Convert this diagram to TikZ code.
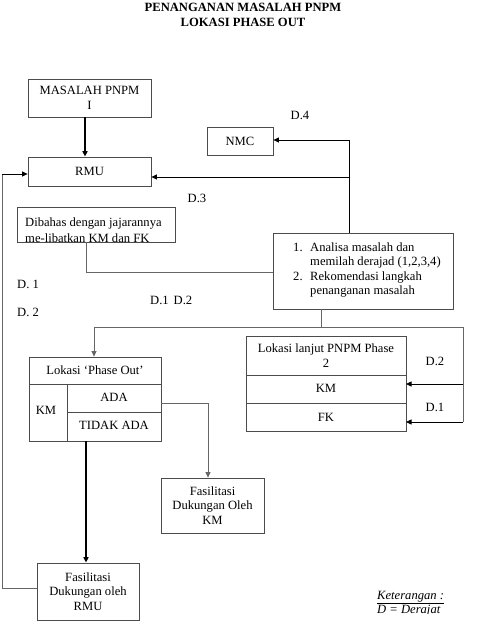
\documentclass[tikz,border=0pt]{standalone}
\usepackage{fontspec}
\setmainfont{Liberation Serif}
\usetikzlibrary{arrows.meta}
\newcommand{\myfs}{\fontsize{12.6}{14.5}\selectfont}
\tikzset{
  box/.style={draw=black!70, line width=0.8pt, inner sep=0pt, align=center, font=\myfs},
  lbl/.style={inner sep=0pt, font=\myfs},
  blk/.style={line width=0.8pt, black},
  thk/.style={line width=1.6pt, black},
  gry/.style={line width=0.8pt, black!60},
  arr/.style={-{Triangle[length=5.5pt,width=5pt]}},
}
\begin{document}
\begin{tikzpicture}[x=1pt,y=-1pt]
\useasboundingbox (0,0) rectangle (486,640);
% title
\node[lbl, font=\bfseries\myfs, align=center] (title) at (243,15) {PENANGANAN MASALAH PNPM\\LOKASI PHASE OUT};
% boxes
\node[box, minimum width=123pt, minimum height=38pt] (mas) at (89.5,98) {MASALAH PNPM\\I};
\node[box, minimum width=123pt, minimum height=29pt] (rmu) at (89.5,171.5) {RMU};
\node[box, minimum width=66pt, minimum height=28pt] (nmc) at (240,141) {NMC};
\node[box, minimum width=158pt, minimum height=35pt] (dib) at (96,224.5) {};
\begin{scope}
\clip (17,207) rectangle (175,241.6);
\node[lbl, anchor=base west] (dibt) at (25,226) {Dibahas dengan jajarannya};
\node[lbl, anchor=base west] (dibt2) at (25,242) {me-libatkan KM dan FK};
\end{scope}
\node[box, minimum width=180pt, minimum height=76pt] (ana) at (363,271) {};
\node[lbl, anchor=base west] (a1n) at (293,251) {1.};
\node[lbl, anchor=base west] (a1) at (310,251) {Analisa masalah dan};
\node[lbl, anchor=base west] (a1b) at (310,265.5) {memilah derajad (1,2,3,4)};
\node[lbl, anchor=base west] (a2n) at (293,280) {2.};
\node[lbl, anchor=base west] (a2) at (310,280) {Rekomendasi langkah};
\node[lbl, anchor=base west] (a2b) at (310,294.5) {penanganan masalah};
% lokasi lanjut
\node[box, minimum width=160pt, minimum height=95pt] (lan) at (326,383.5) {};
\draw[draw=black!70, line width=0.8pt] (246,375) -- (406,375) (246,403) -- (406,403);
\node[lbl, align=center] (lant) at (326,355.5) {Lokasi lanjut PNPM Phase\\2};
\node[lbl] (lkm) at (326,388) {KM};
\node[lbl] (lfk) at (326,417) {FK};
\coordinate (lkmr) at (406,384);
\coordinate (lfkr) at (406,422);
% phase out
\node[box, minimum width=132pt, minimum height=84pt] (po) at (95,399) {};
\draw[draw=black!70, line width=0.8pt] (29,384) -- (161,384) (67,384) -- (67,441) (67,412) -- (161,412);
\node[lbl] (pot) at (95,370) {Lokasi ‘Phase Out’};
\node[lbl] (pkm) at (46,410) {KM};
\node[lbl] (pada) at (114,397) {ADA};
\node[lbl] (ptid) at (114,425) {TIDAK ADA};
% fasilitasi
\node[box, minimum width=103pt, minimum height=55pt] (fkm) at (212.5,505.5) {Fasilitasi\\Dukungan Oleh\\KM};
\node[box, minimum width=102pt, minimum height=57pt] (frmu) at (88,591.5) {Fasilitasi\\Dukungan oleh\\RMU};
% labels
\node[lbl] (d4) at (300,115) {D.4};
\node[lbl] (d3) at (197,198) {D.3};
\node[lbl, anchor=west] (d1l) at (17,284) {D. 1};
\node[lbl, anchor=west] (d2l) at (17,312) {D. 2};
\node[lbl, anchor=west] (d12) at (150,300) {D.1\hspace{5pt}D.2};
\node[lbl] (d2r) at (435,361) {D.2};
\node[lbl] (d1r) at (435,407) {D.1};
\begin{scope}
\clip (370,585) rectangle (460,613.5);
\node[lbl, anchor=base west, font=\itshape\myfs] (ket) at (377,599) {\underline{Keterangan :}};
\node[lbl, anchor=base west, font=\itshape\myfs] (ket2) at (377,613) {D = Derajat};
\end{scope}
% connectors
\draw[thk, arr] ([xshift=-4.5pt]mas.south) -- ([xshift=-4.5pt]rmu.north);
\coordinate (j1) at (349,140);
\coordinate (j2) at (349,177);
\draw[blk] (ana.north -| j1) -- (j1);
\draw[blk, arr] (j1) -- (nmc.east |- j1);
\draw[blk, arr] (j2) -- (rmu.east |- j2);
\coordinate (dbl) at (86,272);
\draw[gry] (dib.south -| dbl) -- (dbl) -- (ana.west |- dbl);
\coordinate (ab) at (321,327);
\coordinate (hl) at (94,327);
\coordinate (hr) at (463,327);
\draw[gry] (ana.south -| ab) -- (ab);
\draw[gry, arr] (ab) -- (hl) -- (po.north -| hl);
\draw[gry] (ab) -- (hr) -- (hr |- lfkr);
\draw[blk, arr] (hr |- lfkr) -- (lfkr);
\draw[blk, arr] (hr |- lkmr) -- (lkmr);
\coordinate (adar) at (161,403);
\coordinate (adac) at (208,403);
\draw[gry, arr] (adar) -- (adac) -- (fkm.north -| adac);
\coordinate (tid) at (86,441);
\draw[thk, arr] (tid) -- (frmu.north -| tid);
\coordinate (lf) at (2,588);
\coordinate (lt) at (2,174);
\draw[gry] (frmu.west |- lf) -- (lf) -- (lt);
\draw[blk, arr] (lt) -- (rmu.west |- lt);
\end{tikzpicture}
\end{document}
